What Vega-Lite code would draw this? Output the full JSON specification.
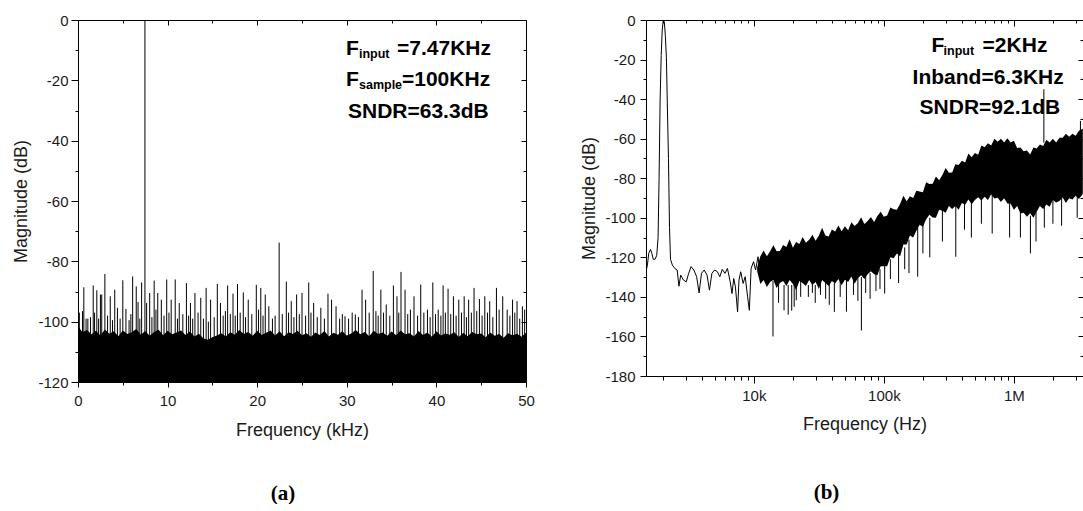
{
  "$schema": "https://vega.github.io/schema/vega-lite/v6.json",
  "background": "white",
  "padding": {"left": 12, "top": 13, "right": 0, "bottom": 0},
  "autosize": {"type": "pad"},
  "spacing": 120,
  "bounds": "flush",
  "config": {
    "view": {"stroke": null},
    "axis": {
      "grid": false,
      "domainColor": "#000",
      "domainWidth": 1,
      "tickColor": "#000",
      "tickWidth": 1,
      "labelFont": "Liberation Sans",
      "labelFontSize": 15,
      "labelColor": "#1a1a1a",
      "titleFont": "Liberation Sans",
      "titleFontSize": 18,
      "titleFontWeight": "normal",
      "titleColor": "#1a1a1a",
      "labelOverlap": false,
      "labelFlush": false,
      "labelBound": false
    }
  },
  "datasets": {
    "a_floor": [
      {"f":0,"db":-101.5},{"f":0.5,"db":-103.5},{"f":1,"db":-102.8},{"f":1.5,"db":-104.2},{"f":2,"db":-103},{"f":2.5,"db":-104.6},{"f":3,"db":-102.6},{"f":3.5,"db":-104},{"f":4,"db":-103.2},{"f":4.5,"db":-104.8},
      {"f":5,"db":-102.9},{"f":5.5,"db":-104.1},{"f":6,"db":-103.5},{"f":6.5,"db":-102.4},{"f":7,"db":-104.3},{"f":7.5,"db":-103.1},{"f":8,"db":-104.7},{"f":8.5,"db":-103.4},{"f":9,"db":-102.7},{"f":9.5,"db":-104.5},
      {"f":10,"db":-103},{"f":10.5,"db":-104.2},{"f":11,"db":-103.6},{"f":11.5,"db":-102.9},{"f":12,"db":-104.4},{"f":12.5,"db":-103.3},{"f":13,"db":-104.9},{"f":13.5,"db":-104},{"f":14,"db":-105.6},{"f":14.5,"db":-106},
      {"f":15,"db":-105.2},{"f":15.5,"db":-104.6},{"f":16,"db":-103.8},{"f":16.5,"db":-104.9},{"f":17,"db":-103.5},{"f":17.5,"db":-104.3},{"f":18,"db":-102.8},{"f":18.5,"db":-104.1},{"f":19,"db":-103.4},{"f":19.5,"db":-104.7},
      {"f":20,"db":-103},{"f":20.5,"db":-104.4},{"f":21,"db":-103.7},{"f":21.5,"db":-102.9},{"f":22,"db":-104.6},{"f":22.5,"db":-103.2},{"f":23,"db":-104.8},{"f":23.5,"db":-103.5},{"f":24,"db":-104.1},{"f":24.5,"db":-103},
      {"f":25,"db":-104.5},{"f":25.5,"db":-103.8},{"f":26,"db":-105},{"f":26.5,"db":-103.6},{"f":27,"db":-104.4},{"f":27.5,"db":-103.1},{"f":28,"db":-104.9},{"f":28.5,"db":-103.7},{"f":29,"db":-104.3},{"f":29.5,"db":-103.2},
      {"f":30,"db":-104.6},{"f":30.5,"db":-103.9},{"f":31,"db":-102.8},{"f":31.5,"db":-104.2},{"f":32,"db":-103.4},{"f":32.5,"db":-104.8},{"f":33,"db":-103},{"f":33.5,"db":-104.1},{"f":34,"db":-103.6},{"f":34.5,"db":-104.7},
      {"f":35,"db":-103.3},{"f":35.5,"db":-104.5},{"f":36,"db":-102.9},{"f":36.5,"db":-104.2},{"f":37,"db":-103.8},{"f":37.5,"db":-104.9},{"f":38,"db":-103.1},{"f":38.5,"db":-104.4},{"f":39,"db":-103.6},{"f":39.5,"db":-105},
      {"f":40,"db":-103.2},{"f":40.5,"db":-104.6},{"f":41,"db":-103.9},{"f":41.5,"db":-104.3},{"f":42,"db":-103.5},{"f":42.5,"db":-105.1},{"f":43,"db":-103.7},{"f":43.5,"db":-104.8},{"f":44,"db":-103.4},{"f":44.5,"db":-104.2},
      {"f":45,"db":-103.9},{"f":45.5,"db":-105.2},{"f":46,"db":-103.6},{"f":46.5,"db":-104.7},{"f":47,"db":-104.1},{"f":47.5,"db":-105.3},{"f":48,"db":-103.8},{"f":48.5,"db":-104.5},{"f":49,"db":-104},{"f":49.5,"db":-105},{"f":50,"db":-103.7}
    ],
    "a_spikes": [
      {"f":0.15,"db":-97},{"f":0.5,"db":-96.5},{"f":0.65,"db":-88.6},{"f":0.9,"db":-99},{"f":1.1,"db":-99},{"f":1.4,"db":-98.5},{"f":1.7,"db":-88},{"f":1.85,"db":-97},{"f":2.1,"db":-89.6},{"f":2.3,"db":-99},
      {"f":2.5,"db":-91},{"f":2.65,"db":-91},{"f":3.0,"db":-84.2},{"f":3.3,"db":-98},{"f":3.6,"db":-91.6},{"f":3.85,"db":-99.5},{"f":4.1,"db":-89.4},{"f":4.4,"db":-95.4},{"f":4.7,"db":-99},{"f":5.0,"db":-86.3},
      {"f":5.35,"db":-95.8},{"f":5.7,"db":-99.5},{"f":5.9,"db":-97.5},{"f":6.1,"db":-85},{"f":6.5,"db":-88.3},{"f":6.7,"db":-93.5},{"f":6.9,"db":-99},{"f":7.1,"db":-87},{"f":7.47,"db":0},{"f":7.66,"db":-93.8},
      {"f":8.0,"db":-90.5},{"f":8.25,"db":-98.5},{"f":8.5,"db":-86.4},{"f":8.7,"db":-96},{"f":8.9,"db":-90.5},{"f":9.3,"db":-92.7},{"f":9.6,"db":-98},{"f":9.9,"db":-86},{"f":10.15,"db":-97},{"f":10.4,"db":-92.7},
      {"f":10.85,"db":-86},{"f":11.1,"db":-99},{"f":11.3,"db":-93.8},{"f":11.7,"db":-97.5},{"f":12.1,"db":-87.2},{"f":12.35,"db":-98},{"f":12.55,"db":-93.8},{"f":12.8,"db":-99},{"f":13.05,"db":-90.5},{"f":13.4,"db":-97},
      {"f":13.7,"db":-92.1},{"f":14.0,"db":-99},{"f":14.3,"db":-88.8},{"f":14.55,"db":-100},{"f":14.8,"db":-92.7},{"f":15.2,"db":-98.5},{"f":15.55,"db":-87.5},{"f":15.9,"db":-93.8},{"f":16.2,"db":-98},{"f":16.45,"db":-96.5},
      {"f":16.7,"db":-88},{"f":17.0,"db":-97.5},{"f":17.3,"db":-90.7},{"f":17.55,"db":-98},{"f":17.8,"db":-87.5},{"f":18.1,"db":-97},{"f":18.45,"db":-90.3},{"f":18.7,"db":-98.5},{"f":19.0,"db":-92.7},{"f":19.4,"db":-97.5},
      {"f":19.9,"db":-87.8},{"f":20.15,"db":-96},{"f":20.4,"db":-88.8},{"f":20.65,"db":-98},{"f":20.9,"db":-91},{"f":21.3,"db":-94.9},{"f":21.7,"db":-99},{"f":22.0,"db":-98},{"f":22.45,"db":-73.8},{"f":22.8,"db":-97.5},
      {"f":23.25,"db":-86.7},{"f":23.5,"db":-97},{"f":23.8,"db":-93.2},{"f":24.1,"db":-98.5},{"f":24.4,"db":-91},{"f":24.7,"db":-97.5},{"f":25.0,"db":-90.5},{"f":25.4,"db":-98},{"f":25.75,"db":-87},{"f":26.0,"db":-97},
      {"f":26.3,"db":-93.8},{"f":26.7,"db":-98.5},{"f":27.1,"db":-95.4},{"f":27.5,"db":-99},{"f":27.9,"db":-90.7},{"f":28.3,"db":-92.7},{"f":28.8,"db":-94.9},{"f":29.2,"db":-99},{"f":29.5,"db":-97.5},{"f":29.8,"db":-98.2},
      {"f":30.2,"db":-99},{"f":30.6,"db":-97},{"f":30.95,"db":-97.6},{"f":31.3,"db":-98.5},{"f":31.7,"db":-89.4},{"f":32.1,"db":-92.7},{"f":32.5,"db":-97},{"f":32.95,"db":-83.2},{"f":33.25,"db":-96.5},{"f":33.5,"db":-98},
      {"f":33.8,"db":-89.4},{"f":34.1,"db":-97},{"f":34.4,"db":-94.3},{"f":34.8,"db":-98},{"f":35.2,"db":-88},{"f":35.6,"db":-91.6},{"f":35.8,"db":-97},{"f":36.05,"db":-83.5},{"f":36.5,"db":-89.4},{"f":36.8,"db":-97.5},
      {"f":37.1,"db":-96},{"f":37.5,"db":-91.6},{"f":37.9,"db":-98},{"f":38.25,"db":-87.7},{"f":38.6,"db":-97},{"f":39.0,"db":-96},{"f":39.3,"db":-98.5},{"f":39.6,"db":-87},{"f":39.9,"db":-97.5},{"f":40.2,"db":-96},
      {"f":40.5,"db":-98},{"f":40.75,"db":-88},{"f":41.0,"db":-97},{"f":41.3,"db":-89.1},{"f":41.6,"db":-97.5},{"f":41.9,"db":-91.6},{"f":42.2,"db":-98},{"f":42.5,"db":-92.7},{"f":42.8,"db":-97},{"f":43.1,"db":-91.6},
      {"f":43.35,"db":-98.5},{"f":43.6,"db":-92.7},{"f":43.9,"db":-97},{"f":44.2,"db":-88.8},{"f":44.5,"db":-96.5},{"f":44.8,"db":-92.5},{"f":45.1,"db":-98},{"f":45.4,"db":-91.6},{"f":45.7,"db":-97},{"f":45.95,"db":-93.2},
      {"f":46.3,"db":-98.5},{"f":46.7,"db":-88.8},{"f":47.0,"db":-96},{"f":47.4,"db":-91.6},{"f":47.9,"db":-96},{"f":48.2,"db":-98},{"f":48.5,"db":-92.7},{"f":48.75,"db":-97},{"f":49.0,"db":-93.2},{"f":49.3,"db":-99},
      {"f":49.6,"db":-94.9},{"f":49.85,"db":-96}
    ],
    "b_line": [
      {"f":1479,"db":-127.3},{"f":1517,"db":-124},{"f":1553,"db":-118},{"f":1603,"db":-116},{"f":1642,"db":-118},{"f":1683,"db":-121},{"f":1735,"db":-121},{"f":1790,"db":-119},{"f":1833,"db":-110},{"f":1866,"db":-80},
      {"f":1901,"db":-40},{"f":1937,"db":-18},{"f":1973,"db":-5},{"f":2011,"db":0},{"f":2048,"db":-1},{"f":2085,"db":-8},{"f":2124,"db":-19},{"f":2163,"db":-45},{"f":2203,"db":-70},{"f":2244,"db":-105},
      {"f":2285,"db":-121},{"f":2360,"db":-123.9},{"f":2463,"db":-125.6},{"f":2570,"db":-126.4},{"f":2652,"db":-134.6},{"f":2735,"db":-129},{"f":2872,"db":-131.5},{"f":3019,"db":-132.4},{"f":3150,"db":-128.1},{"f":3289,"db":-124.7},
      {"f":3453,"db":-126.4},{"f":3628,"db":-129.8},{"f":3788,"db":-138},{"f":3954,"db":-128.1},{"f":4151,"db":-126.4},{"f":4363,"db":-129},{"f":4553,"db":-136.6},{"f":4753,"db":-128.1},{"f":4990,"db":-126.4},{"f":5244,"db":-127.3},
      {"f":5473,"db":-129.8},{"f":5712,"db":-126.1},{"f":5997,"db":-128.1},{"f":6262,"db":-125.6},{"f":6577,"db":-132.4},{"f":6788,"db":-138.3},{"f":6998,"db":-130.7},{"f":7214,"db":-134.9},{"f":7491,"db":-147.6},{"f":7680,"db":-131.5},
      {"f":7917,"db":-127.3},{"f":8265,"db":-133.2},{"f":8575,"db":-129.8},{"f":8951,"db":-140},{"f":9230,"db":-146.8},{"f":9520,"db":-125.6},{"f":9940,"db":-122.2},{"f":10310,"db":-126.4},{"f":10760,"db":-119.7},{"f":11240,"db":-129},
      {"f":11800,"db":-123.9},{"f":12390,"db":-129.8}
    ],
    "b_band": [
      {"f":10600,"top":-125,"bot":-127},
      {"f":11220,"top":-119.5,"bot":-133.5},{"f":11885,"top":-116.5,"bot":-131.5},{"f":12589,"top":-119.5,"bot":-135},{"f":13335,"top":-116.9,"bot":-132.5},{"f":14125,"top":-113.9,"bot":-131.5},{"f":14962,"top":-116.9,"bot":-135.5},{"f":15849,"top":-116.8,"bot":-133},{"f":16788,"top":-113.8,"bot":-132},{"f":17783,"top":-114.8,"bot":-134.5},{"f":18836,"top":-110.8,"bot":-131.5},
      {"f":19953,"top":-115.2,"bot":-133.5},{"f":21135,"top":-112.2,"bot":-136.5},{"f":22387,"top":-113.2,"bot":-132},{"f":23714,"top":-109.7,"bot":-133},{"f":25119,"top":-112.6,"bot":-134.5},{"f":26607,"top":-111.1,"bot":-131.5},{"f":28184,"top":-108.6,"bot":-134},{"f":29854,"top":-111.6,"bot":-132.5},{"f":31623,"top":-109,"bot":-136},{"f":33497,"top":-105,"bot":-131.5},
      {"f":35481,"top":-109,"bot":-133},{"f":37584,"top":-109.5,"bot":-134.5},{"f":39811,"top":-105.9,"bot":-132},{"f":42170,"top":-106.9,"bot":-133.2},{"f":44668,"top":-103.9,"bot":-131},{"f":47315,"top":-106.8,"bot":-134.1},{"f":50119,"top":-104.3,"bot":-131.3},{"f":53088,"top":-106.3,"bot":-132.5},{"f":56234,"top":-102.3,"bot":-129.7},{"f":59566,"top":-104.2,"bot":-133.4},
      {"f":63096,"top":-102.7,"bot":-130.5},{"f":66834,"top":-99.7,"bot":-129},{"f":70795,"top":-103.2,"bot":-131},{"f":74989,"top":-101.6,"bot":-128.5},{"f":79433,"top":-99.6,"bot":-127},{"f":84140,"top":-102.1,"bot":-128.5},{"f":89125,"top":-99.1,"bot":-129},{"f":94406,"top":-97,"bot":-124.5},{"f":100000,"top":-99.5,"bot":-124.5},{"f":105925,"top":-98.9,"bot":-124.5},
      {"f":112202,"top":-94.8,"bot":-120},{"f":118850,"top":-95.7,"bot":-120.5},{"f":125893,"top":-96,"bot":-118},{"f":133352,"top":-92.9,"bot":-119.5},{"f":141254,"top":-88.8,"bot":-113.5},{"f":149624,"top":-91.7,"bot":-113.5},{"f":158489,"top":-89.1,"bot":-109},{"f":167880,"top":-90,"bot":-110},{"f":177828,"top":-86.3,"bot":-106.5},{"f":188365,"top":-86.7,"bot":-103.5},
      {"f":199526,"top":-87.1,"bot":-104.5},{"f":211349,"top":-82,"bot":-100.8},{"f":223872,"top":-82.9,"bot":-98.5},{"f":237137,"top":-82.8,"bot":-99.8},{"f":251189,"top":-79.1,"bot":-100},{"f":266073,"top":-81,"bot":-96},{"f":281838,"top":-78.4,"bot":-96.5},{"f":298538,"top":-74.8,"bot":-97.5},{"f":316228,"top":-77.2,"bot":-94},{"f":334965,"top":-77.1,"bot":-95.5},
      {"f":354813,"top":-72.9,"bot":-94},{"f":375837,"top":-73.3,"bot":-96},{"f":398107,"top":-71.2,"bot":-92.5},{"f":421697,"top":-72.1,"bot":-93.4},{"f":446684,"top":-67.5,"bot":-90.8},{"f":473151,"top":-69.4,"bot":-93.1},{"f":501187,"top":-67.2,"bot":-91},{"f":530884,"top":-68.1,"bot":-89.6},{"f":562341,"top":-63.5,"bot":-91.3},{"f":595662,"top":-64.4,"bot":-89.4},
      {"f":630957,"top":-62.3,"bot":-91},{"f":668344,"top":-63.4,"bot":-88.1},{"f":707946,"top":-60,"bot":-90.3},{"f":749894,"top":-61.5,"bot":-89.9},{"f":794328,"top":-60,"bot":-92},{"f":841395,"top":-62,"bot":-90.1},{"f":891251,"top":-59.8,"bot":-92.8},{"f":944061,"top":-62,"bot":-92.9},{"f":1000000,"top":-61,"bot":-96},{"f":1059254,"top":-64.7,"bot":-94.1},
      {"f":1122018,"top":-64.5,"bot":-97.8},{"f":1188502,"top":-66.3,"bot":-97.4},{"f":1258925,"top":-66,"bot":-99.5},{"f":1333521,"top":-68,"bot":-97.7},{"f":1412538,"top":-64.5,"bot":-100},{"f":1496236,"top":-65,"bot":-97},{"f":1584893,"top":-63,"bot":-94},{"f":1678804,"top":-63.7,"bot":-95.6},{"f":1778279,"top":-60.5,"bot":-93.3},{"f":1883649,"top":-62,"bot":-94.4},
      {"f":1995262,"top":-60,"bot":-91},{"f":2113489,"top":-62,"bot":-92.3},{"f":2238721,"top":-59.5,"bot":-91.5},{"f":2371374,"top":-59.5,"bot":-89.8},{"f":2511886,"top":-57.5,"bot":-92.5},{"f":2660725,"top":-59,"bot":-90.1},{"f":2818383,"top":-57.5,"bot":-90.8},{"f":2985383,"top":-58.5,"bot":-88.9},{"f":3162278,"top":-56,"bot":-90.5},{"f":3388442,"top":-55,"bot":-88}
    ],
    "b_spikes": [
      {"f":14028,"lo":-160,"hi":-132},{"f":15488,"lo":-143,"hi":-133},{"f":17061,"lo":-146.8,"hi":-134},{"f":18365,"lo":-149,"hi":-134},{"f":19543,"lo":-147,"hi":-134},{"f":20417,"lo":-145,"hi":-134},{"f":21184,"lo":-141.7,"hi":-134},{"f":22909,"lo":-140,"hi":-132},{"f":26242,"lo":-140,"hi":-134},{"f":28184,"lo":-138,"hi":-132},
      {"f":29648,"lo":-143,"hi":-134},{"f":32509,"lo":-139,"hi":-133},{"f":35645,"lo":-141,"hi":-132},{"f":38019,"lo":-144,"hi":-133},{"f":41591,"lo":-147.6,"hi":-133},{"f":46132,"lo":-140,"hi":-131},{"f":51523,"lo":-147.5,"hi":-131},{"f":58345,"lo":-139,"hi":-130},{"f":63096,"lo":-142,"hi":-130},{"f":67143,"lo":-157,"hi":-130},
      {"f":72444,"lo":-138,"hi":-128},{"f":78343,"lo":-141,"hi":-128},{"f":86896,"lo":-137,"hi":-127},{"f":93325,"lo":-136,"hi":-126},{"f":101391,"lo":-138.3,"hi":-124},{"f":112202,"lo":-131,"hi":-121},{"f":129718,"lo":-133,"hi":-118},{"f":144544,"lo":-126,"hi":-115},{"f":155955,"lo":-128,"hi":-111},{"f":181970,"lo":-129.8,"hi":-105},
      {"f":199526,"lo":-118,"hi":-102},{"f":225424,"lo":-120,"hi":-100},{"f":281838,"lo":-112,"hi":-96},{"f":357273,"lo":-119.7,"hi":-94},{"f":416869,"lo":-106,"hi":-93},{"f":470977,"lo":-110,"hi":-91},{"f":562341,"lo":-103,"hi":-89},{"f":680769,"lo":-108,"hi":-88},{"f":926830,"lo":-110,"hi":-91},{"f":1122018,"lo":-110,"hi":-97},
      {"f":1339753,"lo":-118,"hi":-99},{"f":1479108,"lo":-112,"hi":-97},{"f":1713957,"lo":-105,"hi":-93},{"f":1995262,"lo":-103,"hi":-91},{"f":2328091,"lo":-104,"hi":-90},{"f":3069009,"lo":-100,"hi":-88},
      {"f":1700000,"lo":-62,"hi":-35},{"f":3250000,"lo":-56,"hi":-51}
    ]
  },
  "hconcat": [
    {
      "width": 448,
      "height": 362,
      "title": {"text": "(a)", "orient": "bottom", "anchor": "middle", "offset": 44, "dx": -19, "font": "Liberation Serif", "fontSize": 21, "fontWeight": "bold", "color": "#000"},
      "resolve": {"axis": {"x": "independent", "y": "independent"}},
      "layer": [
        {
          "data": {"name": "a_floor"},
          "mark": {"type": "area", "color": "#000", "opacity": 1, "clip": true},
          "encoding": {
            "x": {"field": "f", "type": "quantitative", "scale": {"domain": [0, 50], "nice": false, "zero": false},
              "axis": {"orient": "bottom", "values": [0,5,10,15,20,25,30,35,40,45,50], "labelExpr": "datum.value % 10 === 0 ? '' + datum.value : ''", "tickSize": {"condition": {"test": "datum.value % 10 === 0", "value": 5}, "value": 3}, "labelPadding": 6, "title": "Frequency (kHz)", "titlePadding": 13}},
            "y": {"field": "db", "type": "quantitative", "scale": {"domain": [-120, 0], "nice": false, "zero": false},
              "axis": {"orient": "left", "values": [-120,-110,-100,-90,-80,-70,-60,-50,-40,-30,-20,-10,0], "labelExpr": "datum.value % 20 === 0 ? '' + datum.value : ''", "tickSize": {"condition": {"test": "datum.value % 20 === 0", "value": 7}, "value": 3}, "labelPadding": 3, "title": "Magnitude (dB)", "titlePadding": 7}},
            "y2": {"datum": -120}
          }
        },
        {
          "data": {"name": "a_spikes"},
          "mark": {"type": "rule", "color": "#000", "strokeWidth": 1, "clip": true},
          "encoding": {
            "x": {"field": "f", "type": "quantitative", "axis": null},
            "y": {"field": "db", "type": "quantitative", "axis": null},
            "y2": {"datum": -120}
          }
        },
        {
          "data": {"name": "a_spikes"},
          "mark": {"type": "point", "opacity": 0},
          "encoding": {
            "x": {"field": "f", "type": "quantitative", "axis": {"orient": "top", "values": [0,5,10,15,20,25,30,35,40,45,50], "labels": false, "title": null, "tickSize": {"condition": {"test": "datum.value % 10 === 0", "value": -5}, "value": -3}}},
            "y": {"field": "db", "type": "quantitative", "axis": {"orient": "right", "values": [-120,-110,-100,-90,-80,-70,-60,-50,-40,-30,-20,-10,0], "labels": false, "title": null, "tickSize": {"condition": {"test": "datum.value % 20 === 0", "value": -5}, "value": -3}}}
          }
        },
        {
          "data": {"values": [{}]},
          "mark": {"type": "text", "align": "left", "baseline": "alphabetic", "font": "Liberation Sans", "fontWeight": "bold", "fontSize": 21, "color": "#000", "dx": 0},
          "encoding": {"x": {"datum": 29.91, "type": "quantitative", "axis": null}, "y": {"datum": -11.6, "type": "quantitative", "axis": null}, "text": {"value": "F"}}
        },
        {
          "data": {"values": [{}]},
          "mark": {"type": "text", "align": "left", "baseline": "alphabetic", "font": "Liberation Sans", "fontWeight": "bold", "fontSize": 12.5, "color": "#000", "dx": 13, "dy": 3},
          "encoding": {"x": {"datum": 29.91, "type": "quantitative", "axis": null}, "y": {"datum": -11.6, "type": "quantitative", "axis": null}, "text": {"value": "input"}}
        },
        {
          "data": {"values": [{}]},
          "mark": {"type": "text", "align": "left", "baseline": "alphabetic", "font": "Liberation Sans", "fontWeight": "bold", "fontSize": 21, "color": "#000", "dx": 51},
          "encoding": {"x": {"datum": 29.91, "type": "quantitative", "axis": null}, "y": {"datum": -11.6, "type": "quantitative", "axis": null}, "text": {"value": "=7.47KHz"}}
        },
        {
          "data": {"values": [{}]},
          "mark": {"type": "text", "align": "left", "baseline": "alphabetic", "font": "Liberation Sans", "fontWeight": "bold", "fontSize": 21, "color": "#000", "dx": 0},
          "encoding": {"x": {"datum": 29.91, "type": "quantitative", "axis": null}, "y": {"datum": -22.04, "type": "quantitative", "axis": null}, "text": {"value": "F"}}
        },
        {
          "data": {"values": [{}]},
          "mark": {"type": "text", "align": "left", "baseline": "alphabetic", "font": "Liberation Sans", "fontWeight": "bold", "fontSize": 12.5, "color": "#000", "dx": 13, "dy": 3},
          "encoding": {"x": {"datum": 29.91, "type": "quantitative", "axis": null}, "y": {"datum": -22.04, "type": "quantitative", "axis": null}, "text": {"value": "sample"}}
        },
        {
          "data": {"values": [{}]},
          "mark": {"type": "text", "align": "left", "baseline": "alphabetic", "font": "Liberation Sans", "fontWeight": "bold", "fontSize": 21, "color": "#000", "dx": 56},
          "encoding": {"x": {"datum": 29.91, "type": "quantitative", "axis": null}, "y": {"datum": -22.04, "type": "quantitative", "axis": null}, "text": {"value": "=100KHz"}}
        },
        {
          "data": {"values": [{}]},
          "mark": {"type": "text", "align": "left", "baseline": "alphabetic", "font": "Liberation Sans", "fontWeight": "bold", "fontSize": 21, "color": "#000", "dx": 2},
          "encoding": {"x": {"datum": 29.91, "type": "quantitative", "axis": null}, "y": {"datum": -32.49, "type": "quantitative", "axis": null}, "text": {"value": "SNDR=63.3dB"}}
        }
      ]
    },
    {
      "width": 437,
      "height": 356,
      "title": {"text": "(b)", "orient": "bottom", "anchor": "middle", "offset": 49, "dx": -38, "font": "Liberation Serif", "fontSize": 21, "fontWeight": "bold", "color": "#000"},
      "resolve": {"axis": {"x": "independent", "y": "independent"}},
      "layer": [
        {
          "data": {"name": "b_line"},
          "mark": {"type": "line", "color": "#000", "strokeWidth": 1, "clip": true},
          "encoding": {
            "x": {"field": "f", "type": "quantitative", "scale": {"type": "log", "domain": [1480, 3400000], "nice": false, "zero": false},
              "axis": {"orient": "bottom", "values": [2000,3000,4000,5000,6000,7000,8000,9000,10000,20000,30000,40000,50000,60000,70000,80000,90000,100000,200000,300000,400000,500000,600000,700000,800000,900000,1000000,2000000,3000000], "labelExpr": "datum.value === 10000 ? '10k' : datum.value === 100000 ? '100k' : datum.value === 1000000 ? '1M' : ''", "tickSize": {"condition": {"test": "datum.value === 10000 || datum.value === 100000 || datum.value === 1000000", "value": 7}, "value": 4}, "labelPadding": 5, "title": "Frequency (Hz)", "titlePadding": 12}},
            "y": {"field": "db", "type": "quantitative", "scale": {"domain": [-180, 0], "nice": false, "zero": false},
              "axis": {"orient": "left", "values": [-180,-170,-160,-150,-140,-130,-120,-110,-100,-90,-80,-70,-60,-50,-40,-30,-20,-10,0], "labelExpr": "datum.value % 20 === 0 ? '' + datum.value : ''", "tickSize": {"condition": {"test": "datum.value % 20 === 0", "value": 6}, "value": 3}, "labelPadding": 5, "title": "Magnitude (dB)", "titlePadding": 6}}
          }
        },
        {
          "data": {"name": "b_band"},
          "mark": {"type": "area", "color": "#000", "opacity": 1, "clip": true},
          "encoding": {
            "x": {"field": "f", "type": "quantitative", "axis": null},
            "y": {"field": "top", "type": "quantitative", "axis": null},
            "y2": {"field": "bot"}
          }
        },
        {
          "data": {"name": "b_spikes"},
          "mark": {"type": "rule", "color": "#000", "strokeWidth": 1, "clip": true},
          "encoding": {
            "x": {"field": "f", "type": "quantitative", "axis": null},
            "y": {"field": "lo", "type": "quantitative", "axis": null},
            "y2": {"field": "hi"}
          }
        },
        {
          "data": {"name": "b_line"},
          "mark": {"type": "point", "opacity": 0},
          "encoding": {
            "x": {"field": "f", "type": "quantitative", "axis": {"orient": "top", "values": [2000,3000,4000,5000,6000,7000,8000,9000,10000,20000,30000,40000,50000,60000,70000,80000,90000,100000,200000,300000,400000,500000,600000,700000,800000,900000,1000000,2000000,3000000], "labels": false, "title": null, "tickSize": {"condition": {"test": "datum.value === 10000 || datum.value === 100000 || datum.value === 1000000", "value": -6}, "value": -3}}},
            "y": {"field": "db", "type": "quantitative", "axis": {"orient": "right", "values": [-180,-170,-160,-150,-140,-130,-120,-110,-100,-90,-80,-70,-60,-50,-40,-30,-20,-10,0], "labels": false, "title": null, "tickSize": {"condition": {"test": "datum.value % 20 === 0", "value": -5}, "value": -3}}}
          }
        },
        {
          "data": {"values": [{}]},
          "mark": {"type": "text", "align": "left", "baseline": "alphabetic", "font": "Liberation Sans", "fontWeight": "bold", "fontSize": 21, "color": "#000", "dx": 19},
          "encoding": {"x": {"datum": 166300, "type": "quantitative", "axis": null}, "y": {"datum": -15.93, "type": "quantitative", "axis": null}, "text": {"value": "F"}}
        },
        {
          "data": {"values": [{}]},
          "mark": {"type": "text", "align": "left", "baseline": "alphabetic", "font": "Liberation Sans", "fontWeight": "bold", "fontSize": 12.5, "color": "#000", "dx": 31, "dy": 3},
          "encoding": {"x": {"datum": 166300, "type": "quantitative", "axis": null}, "y": {"datum": -15.93, "type": "quantitative", "axis": null}, "text": {"value": "input"}}
        },
        {
          "data": {"values": [{}]},
          "mark": {"type": "text", "align": "left", "baseline": "alphabetic", "font": "Liberation Sans", "fontWeight": "bold", "fontSize": 21, "color": "#000", "dx": 70},
          "encoding": {"x": {"datum": 166300, "type": "quantitative", "axis": null}, "y": {"datum": -15.93, "type": "quantitative", "axis": null}, "text": {"value": "=2KHz"}}
        },
        {
          "data": {"values": [{}]},
          "mark": {"type": "text", "align": "left", "baseline": "alphabetic", "font": "Liberation Sans", "fontWeight": "bold", "fontSize": 21, "color": "#000", "dx": 0},
          "encoding": {"x": {"datum": 166300, "type": "quantitative", "axis": null}, "y": {"datum": -32.11, "type": "quantitative", "axis": null}, "text": {"value": "Inband=6.3KHz"}}
        },
        {
          "data": {"values": [{}]},
          "mark": {"type": "text", "align": "left", "baseline": "alphabetic", "font": "Liberation Sans", "fontWeight": "bold", "fontSize": 21, "color": "#000", "dx": 7},
          "encoding": {"x": {"datum": 166300, "type": "quantitative", "axis": null}, "y": {"datum": -47.78, "type": "quantitative", "axis": null}, "text": {"value": "SNDR=92.1dB"}}
        }
      ]
    }
  ]
}
